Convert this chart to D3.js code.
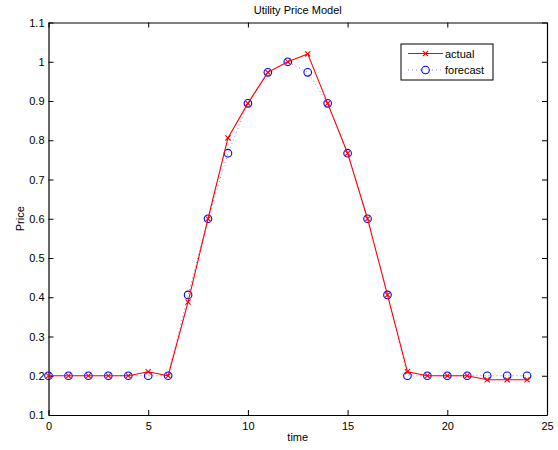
<!DOCTYPE html>
<html>
<head>
<meta charset="utf-8">
<script src="https://cdn.jsdelivr.net/npm/d3@7"></script>
<style>
  html, body { margin: 0; padding: 0; background: #fff; }
  svg { display: block; }
  text { font-family: "Liberation Sans", Arial, Helvetica, sans-serif; font-size: 11px; fill: #000; }
</style>
</head>
<body>
<div id="chart"></div>
<script>
// Hourly price: measured vs. model forecast
const time = d3.range(0, 25);
const actual = [0.2, 0.2, 0.2, 0.2, 0.2, 0.21, 0.2, 0.388, 0.6, 0.806, 0.894, 0.973, 1.0,
                1.02, 0.894, 0.767, 0.6, 0.406, 0.21, 0.2, 0.2, 0.2, 0.19, 0.19, 0.19];
const forecast = [0.2, 0.2, 0.2, 0.2, 0.2, 0.2, 0.2, 0.406, 0.6, 0.767, 0.894, 0.973, 1.0,
                  0.973, 0.894, 0.767, 0.6, 0.406, 0.2, 0.2, 0.2, 0.2, 0.2, 0.2, 0.2];
const xTicks = [0, 5, 10, 15, 20, 25];
const yTicks = [0.1, 0.2, 0.3, 0.4, 0.5, 0.6, 0.7, 0.8, 0.9, 1, 1.1];
const seriesNames = ["actual", "forecast"];

const W = 558, H = 450;
const m = { left: 48.5, right: 11, top: 22.5, bottom: 35 };

const svg = d3.select("#chart").append("svg").attr("width", W).attr("height", H);

const x = d3.scaleLinear().domain([0, 25]).range([m.left, W - m.right]);
const y = d3.scaleLinear().domain([0.1, 1.1]).range([H - m.bottom, m.top]);

const fmtY = d => String(+d.toFixed(1));

// axes with inward ticks on all four sides
const tk = 5;
svg.append("g").attr("transform", `translate(0,${y(0.1)})`)
  .call(d3.axisBottom(x).tickValues(xTicks).tickSizeInner(-tk).tickSizeOuter(0).tickPadding(7).tickFormat(d3.format("d")));
svg.append("g").attr("transform", `translate(0,${y(1.1)})`)
  .call(d3.axisTop(x).tickValues(xTicks).tickSizeInner(-tk).tickSizeOuter(0).tickFormat(""));
svg.append("g").attr("transform", `translate(${x(0)},0)`)
  .call(d3.axisLeft(y).tickValues(yTicks).tickSizeInner(-tk).tickSizeOuter(0).tickPadding(4).tickFormat(fmtY));
svg.append("g").attr("transform", `translate(${x(25)},0)`)
  .call(d3.axisRight(y).tickValues(yTicks).tickSizeInner(-tk).tickSizeOuter(0).tickFormat(""));
svg.selectAll(".domain").attr("stroke", "#000").attr("stroke-width", 1.2);
svg.selectAll(".tick line").attr("stroke", "#000");
svg.selectAll(".tick text").style("font-family", "'Liberation Sans', Arial, sans-serif").style("font-size", "11px").attr("fill", "#000");

// forecast: blue dotted line with circle markers
const line = d3.line().x((d, i) => x(time[i])).y(d => y(d));
svg.append("path").datum(forecast).attr("d", line)
  .attr("fill", "none").attr("stroke", "#3333ff").attr("stroke-width", 1)
  .attr("stroke-dasharray", "1,3").attr("stroke-opacity", 0.6);
svg.append("g").selectAll("circle").data(forecast).join("circle")
  .attr("cx", (d, i) => x(time[i])).attr("cy", d => y(d)).attr("r", 3.8)
  .attr("fill", "none").attr("stroke", "#0000ff").attr("stroke-width", 1.1);

// actual: red solid line with x markers
svg.append("path").datum(actual).attr("d", line)
  .attr("fill", "none").attr("stroke", "#ff0000").attr("stroke-width", 1.1);
const cross = (cx, cy, s) => `M${cx - s},${cy - s}L${cx + s},${cy + s}M${cx - s},${cy + s}L${cx + s},${cy - s}`;
svg.append("g").selectAll("path").data(actual).join("path")
  .attr("d", (d, i) => cross(x(time[i]), y(d), 2.6))
  .attr("fill", "none").attr("stroke", "#ff0000").attr("stroke-width", 1.1);

// title and axis labels
svg.append("text").attr("x", (x(0) + x(25)) / 2).attr("y", 13.5).attr("text-anchor", "middle").text("Utility Price Model");
svg.append("text").attr("x", (x(0) + x(25)) / 2).attr("y", 441).attr("text-anchor", "middle").text("time");
svg.append("text").attr("transform", `translate(23.5,${(y(0.1) + y(1.1)) / 2}) rotate(-90)`).attr("text-anchor", "middle").text("Price");

// legend
const lg = svg.append("g");
lg.append("rect").attr("x", 401).attr("y", 44).attr("width", 92).attr("height", 36)
  .attr("fill", "#fff").attr("stroke", "#000").attr("stroke-width", 1);
const rows = [53.5, 70];
lg.append("line").attr("x1", 408).attr("x2", 443).attr("y1", rows[0]).attr("y2", rows[0])
  .attr("stroke", "#ff0000").attr("stroke-width", 1.1);
lg.append("path").attr("d", cross(425.5, rows[0], 2.6)).attr("stroke", "#ff0000").attr("stroke-width", 1.1);
lg.append("line").attr("x1", 408).attr("x2", 443).attr("y1", rows[1]).attr("y2", rows[1])
  .attr("stroke", "#3333ff").attr("stroke-width", 1).attr("stroke-dasharray", "1,3").attr("stroke-opacity", 0.6);
lg.append("circle").attr("cx", 425.5).attr("cy", rows[1]).attr("r", 3.8)
  .attr("fill", "#fff").attr("stroke", "#0000ff").attr("stroke-width", 1.1);
lg.selectAll("text.lbl").data(seriesNames).join("text").attr("class", "lbl")
  .attr("x", 445).attr("y", (d, i) => rows[i] + 4).text(d => d);
</script>
</body>
</html>
